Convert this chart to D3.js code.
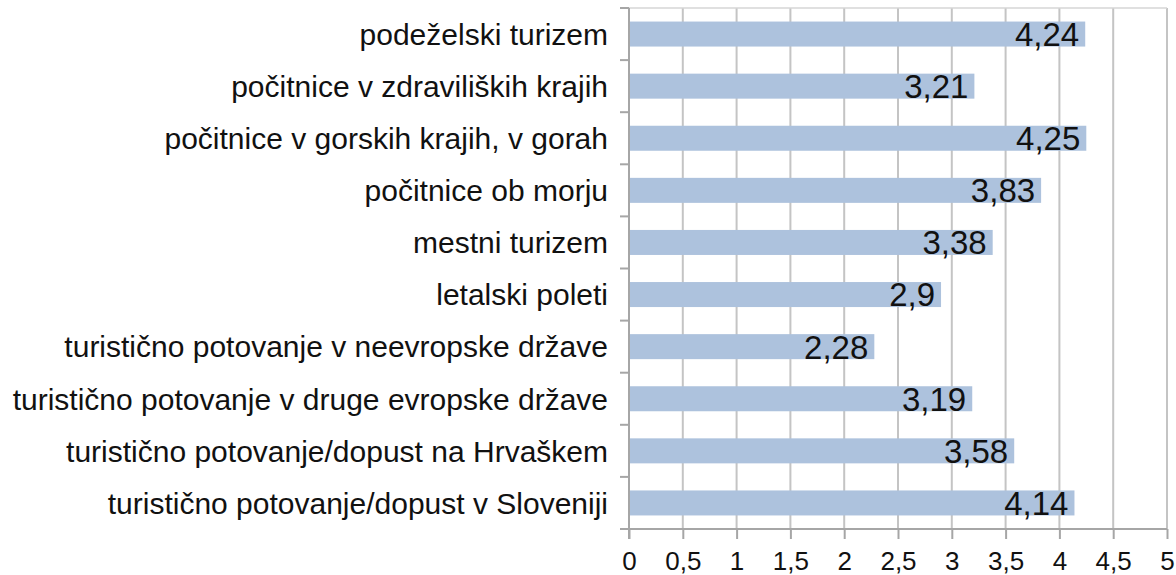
<!DOCTYPE html>
<html><head><meta charset="utf-8">
<script src="https://cdn.jsdelivr.net/npm/d3@7"></script>
<style>body{margin:0;background:#fff;}svg{display:block;}</style>
</head><body>
<svg id="c" width="1176" height="575"></svg>
<script>
const categories = [
  "podeželski turizem",
  "počitnice v zdraviliških krajih",
  "počitnice v gorskih krajih, v gorah",
  "počitnice ob morju",
  "mestni turizem",
  "letalski poleti",
  "turistično potovanje v neevropske države",
  "turistično potovanje v druge evropske države",
  "turistično potovanje/dopust na Hrvaškem",
  "turistično potovanje/dopust v Sloveniji"
];
const values = [4.24, 3.21, 4.25, 3.83, 3.38, 2.9, 2.28, 3.19, 3.58, 4.14];
const tickValues = [0, 0.5, 1, 1.5, 2, 2.5, 3, 3.5, 4, 4.5, 5];
const tickLabels = ["0", "0,5", "1", "1,5", "2", "2,5", "3", "3,5", "4", "4,5", "5"];

(function () {
const svg = d3.select("#c");
const pLeft = 629, pRight = 1167, pTop = 8, pBottom = 529;
const font = "Liberation Sans, Arial, sans-serif";

const x = d3.scaleLinear().domain([0, 5]).range([pLeft, pRight]);
const y = d3.scaleBand().domain(categories).range([pTop, pBottom]).paddingInner(0.52).paddingOuter(0.26);

// gridlines
svg.append("g").selectAll("line").data(tickValues.slice(1)).join("line")
  .attr("x1", d => x(d)).attr("x2", d => x(d))
  .attr("y1", pTop).attr("y2", pBottom)
  .attr("stroke", "#c4c4c4").attr("stroke-width", 2);
// top line
svg.append("line").attr("x1", pLeft).attr("x2", pRight).attr("y1", pTop).attr("y2", pTop)
  .attr("stroke", "#d6d6d6").attr("stroke-width", 1.5);

// bars
svg.append("g").selectAll("rect").data(values).join("rect")
  .attr("x", x(0)).attr("y", (d, i) => y(categories[i]))
  .attr("width", d => x(d) - x(0)).attr("height", y.bandwidth())
  .attr("fill", "#adc2dd");

// value labels
svg.append("g").selectAll("text").data(values).join("text")
  .attr("x", d => x(d) - 6).attr("y", (d, i) => y(categories[i]) + y.bandwidth() / 2)
  .attr("dy", "0.36em").attr("text-anchor", "end")
  .attr("font-family", font).attr("font-size", 33).attr("fill", "#111")
  .text(d => String(d).replace(".", ","));

// x axis
const xAxis = d3.axisBottom(x).tickValues(tickValues).tickFormat((d, i) => tickLabels[i]).tickSize(10).tickSizeOuter(0);
const gx = svg.append("g").attr("transform", `translate(0,${pBottom})`).call(xAxis);
gx.select(".domain").attr("stroke", "#a6a6a6").attr("stroke-width", 2).attr("d", `M${pLeft - 8},0H${pRight}`);
gx.selectAll(".tick line").attr("stroke", "#a6a6a6").attr("stroke-width", 2);
gx.selectAll(".tick text").attr("font-family", font).attr("font-size", 26).attr("fill", "#111")
  .attr("y", 41).attr("dy", 0);

// y axis
const yEdges = d3.range(categories.length + 1).map(i => pTop + i * (pBottom - pTop) / categories.length);
svg.append("line").attr("x1", pLeft).attr("x2", pLeft).attr("y1", pTop).attr("y2", pBottom + 10)
  .attr("stroke", "#a6a6a6").attr("stroke-width", 2);
svg.append("g").selectAll("line").data(yEdges).join("line")
  .attr("x1", pLeft - 9).attr("x2", pLeft).attr("y1", d => d).attr("y2", d => d)
  .attr("stroke", "#a6a6a6").attr("stroke-width", 2);
svg.append("g").selectAll("text").data(categories).join("text")
  .attr("x", pLeft - 21).attr("y", d => y(d) + y.bandwidth() / 2)
  .attr("dy", "0.36em").attr("text-anchor", "end")
  .attr("font-family", font).attr("font-size", 30).attr("fill", "#111")
  .text(d => d);
})();
</script>
</body></html>
